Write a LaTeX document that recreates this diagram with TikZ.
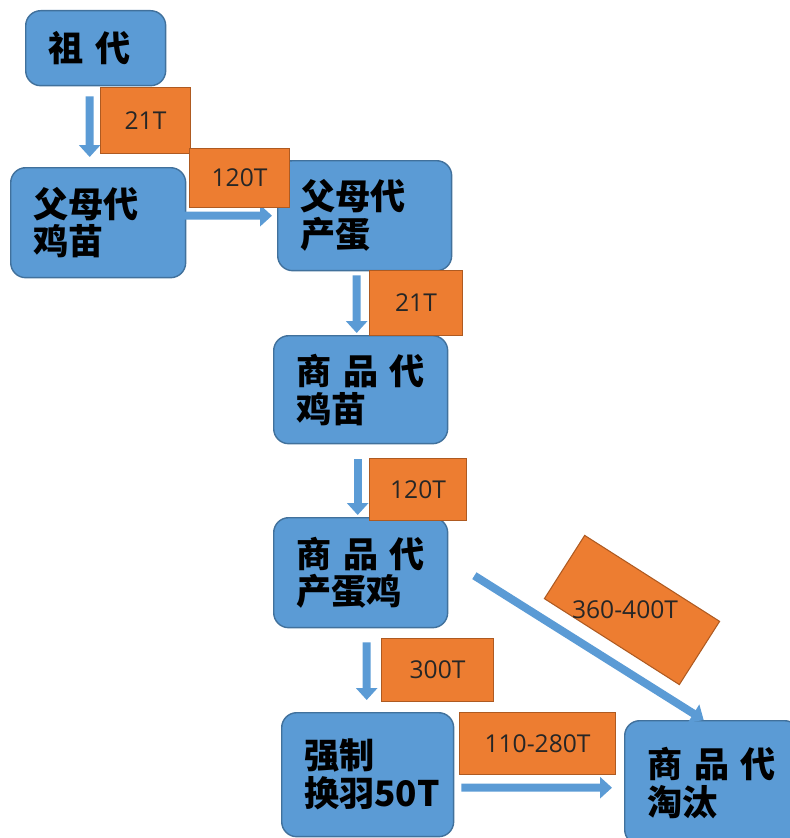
\documentclass[tikz,border=0pt]{standalone}
\usepackage{fontspec}
\usetikzlibrary{arrows.meta}
\newfontfamily\cjk{Noto Sans CJK SC}
\newfontfamily\tagfont{Open Sans}
\definecolor{blockblue}{HTML}{5B9BD5}
\definecolor{blueline}{HTML}{41719C}
\definecolor{tagorange}{HTML}{ED7D31}
\definecolor{orangeline}{HTML}{AE5A21}

\tikzset{
	stage/.style={draw=blueline, fill=blockblue, rounded corners=0.3cm, line width=0.8pt,
		font=\cjk\bfseries\fontsize{20}{21.5}\selectfont, align=left, inner xsep=0.45cm, anchor=north west},
	tag/.style={draw=orangeline, fill=tagorange, line width=0.6pt,
		font=\tagfont\fontsize{14}{16}\selectfont, text=black!85, anchor=north west},
	flow/.style={draw=blockblue, line width=0.16cm, -{Triangle[length=0.24cm,width=0.42cm]}}
}

\begin{document}
\begin{tikzpicture}[x=0.02cm, y=-0.02cm]
\useasboundingbox (0,0) rectangle (789,838);

% Stages
\node[stage, text width=1.9cm, minimum height=1.5cm] (zu) at (25,10) {祖~代};
\node[stage, text width=2.6cm, minimum height=2.2cm] (fmmiao) at (10,167) {父母代\\鸡苗};
\node[stage, text width=2.58cm, minimum height=2.2cm] (fmegg) at (277,160) {父母代\\产蛋};
\node[stage, text width=2.58cm, minimum height=2.16cm] (spmiao) at (273,335) {商~品~代\\鸡苗};
\node[stage, text width=2.58cm, minimum height=2.2cm] (spegg) at (273,517) {商~品~代\\产蛋鸡};
\node[stage, text width=2.54cm, minimum height=2.48cm] (huanyu) at (281,712) {强制\\换羽50T};
\node[stage, text width=2.6cm, minimum height=2.48cm] (taotai) at (624,720) {商~品~代\\淘汰};

% Flows
\draw[flow, shorten <=0.2cm, shorten >=0.2cm] ([xshift=-0.12cm]zu.south) -- ([xshift=-0.17cm]fmmiao.north);
\draw[flow, shorten <=-0.1cm, shorten >=0.1cm] ([yshift=0.14cm]fmmiao.east) -- (fmegg.west);
\draw[flow, shorten <=0.08cm, shorten >=0.04cm] ([xshift=-0.16cm]fmegg.south) -- ([xshift=-0.08cm]spmiao.north);
\draw[flow, shorten <=0.3cm, shorten >=0.04cm] ([xshift=-0.06cm]spmiao.south) -- ([xshift=-0.06cm]spegg.north);
\draw[flow, shorten <=0.28cm, shorten >=0.24cm] ([xshift=0.12cm]spegg.south) -- ([xshift=-0.02cm]huanyu.north);
\draw[flow] ([xshift=0.52cm, yshift=-0.06cm]spegg.east) -- ([xshift=-0.17cm]taotai.north);
\draw[flow, shorten <=0.14cm, shorten >=0.24cm] ([yshift=-0.26cm]huanyu.east) -- ([yshift=-0.1cm]taotai.west);

% Amounts
\node[tag, minimum width=1.8cm, minimum height=1.32cm] (t1) at (100,87) {21T};
\node[tag, minimum width=2.0cm, minimum height=1.18cm] (t2) at (189,148) {120T};
\node[tag, minimum width=1.86cm, minimum height=1.3cm] (t3) at (369,270) {21T};
\node[tag, minimum width=1.94cm, minimum height=1.24cm] (t4) at (369,458) {120T};
\node[tag, minimum width=2.24cm, minimum height=1.26cm] (t5) at (381,638) {300T};
\node[tag, minimum width=3.12cm, minimum height=1.24cm] (t6) at (459,712) {110-280T};
\node[tag, anchor=center, minimum width=3.2cm, minimum height=1.5cm, rotate=-32.5] (t7) at (632,610) {};
\node[font=\tagfont\fontsize{14}{16}\selectfont, text=black!85] (t7text) at ([xshift=-0.14cm]t7.center) {360-400T};

\end{tikzpicture}
\end{document}
